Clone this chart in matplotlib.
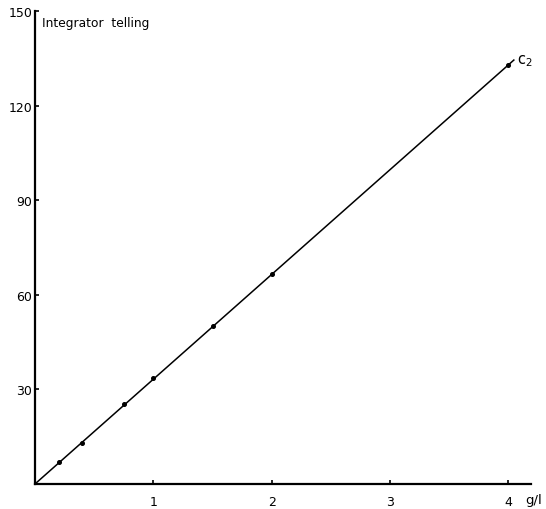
import matplotlib
matplotlib.use("Agg")
import matplotlib.pyplot as plt

# Data
conc = [0.2, 0.4, 0.75, 1.0, 1.5, 2.0, 4.0]
counts = [7.0, 13.0, 25.3, 33.5, 50.0, 66.5, 133.0]
line_x = [0.0, 4.05]
line_y = [0.0, 134.6]
x_ticks = [1, 2, 3, 4]
y_ticks = [30, 60, 90, 120, 150]

plt.rcParams['font.family'] = ['DejaVu Sans']

fig = plt.figure(figsize=(5.46, 5.10), dpi=100)
ax = fig.add_axes([0.064, 0.049, 0.9085, 0.9275])

ax.plot(line_x, line_y, color='black', lw=1.1, solid_capstyle='butt')
ax.plot(conc, counts, 'o', color='black', ms=2.6)

ax.set_xlim(0, 4.19)
ax.set_ylim(0, 150)
ax.set_xticks(x_ticks)
ax.set_yticks(y_ticks)
ax.set_xticklabels([str(v) for v in x_ticks])
ax.set_yticklabels([str(v) for v in y_ticks])

for s in ['top', 'right']:
    ax.spines[s].set_visible(False)
for s in ['left', 'bottom']:
    ax.spines[s].set_linewidth(1.6)

ax.tick_params(axis='both', direction='in', length=3, width=1.2, labelsize=9)
ax.tick_params(axis='x', pad=8)
ax.tick_params(axis='y', pad=2)

ax.text(0.015, 0.99, 'Integrator  telling', transform=ax.transAxes,
        ha='left', va='top', fontsize=8.8)
ax.text(4.07, 134.5, r'c$_2$', ha='left', va='center', fontsize=10.5)
fig.text(0.962, 0.018, 'g/l', ha='left', va='center', fontsize=9.5)

fig.savefig('out.png', dpi=100, facecolor='white')
